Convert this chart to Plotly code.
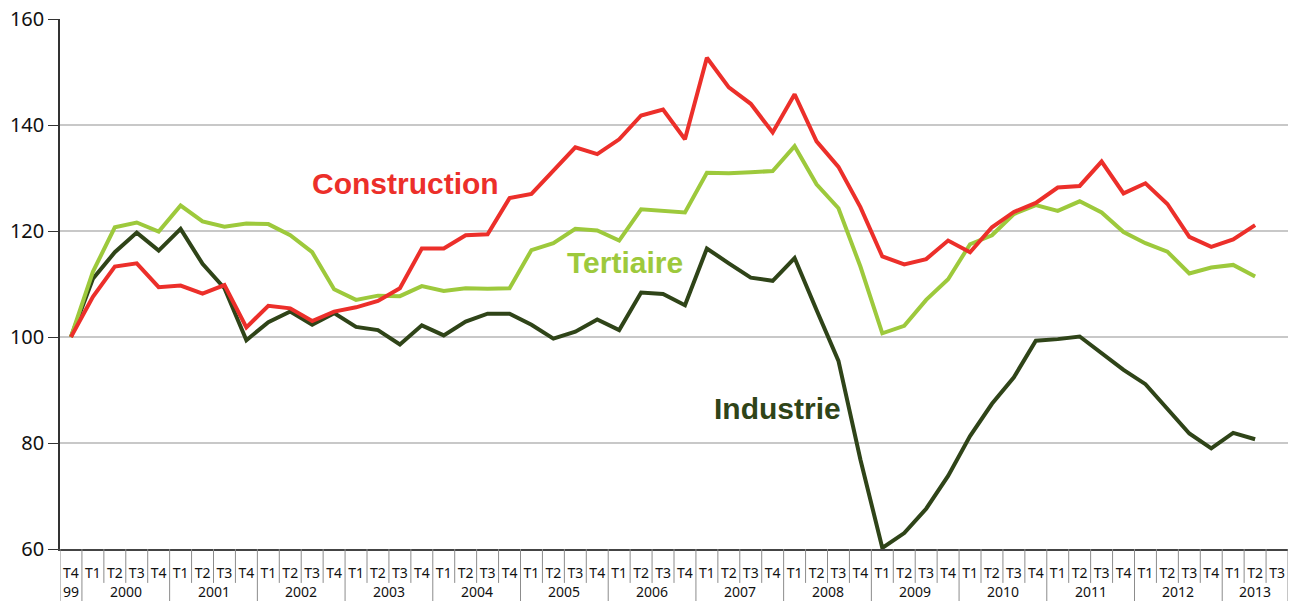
import plotly.graph_objects as go

years = ["99"] + [str(y) for y in range(2000, 2013) for _ in range(4)] + ["2013"] * 3
quarters = ["T4"] + ["T1", "T2", "T3", "T4"] * 13 + ["T1", "T2", "T3"]

industrie = [100, 111, 116, 119.7, 116.3, 120.4, 113.8, 109.2, 99.4, 102.8, 104.8, 102.3, 104.5,
             101.9, 101.3, 98.6, 102.2, 100.3, 102.9, 104.4, 104.4, 102.3, 99.7, 101, 103.3,
             101.3, 108.4, 108.1, 106, 116.7, 113.9, 111.2, 110.6, 114.9, 105.1, 95.5, 76.9,
             60.2, 63, 67.6, 73.8, 81.3, 87.4, 92.4, 99.3, 99.6, 100.1, 96.9, 93.8, 91.1, 86.5,
             81.8, 79, 81.9, 80.7, None]
construction = [100, 107.6, 113.3, 113.9, 109.4, 109.7, 108.2, 109.8, 101.8, 105.9, 105.4, 103, 104.8,
                105.6, 106.8, 109.2, 116.7, 116.7, 119.2, 119.4, 126.2, 127, 131.4, 135.8, 134.5,
                137.3, 141.8, 142.9, 137.3, 152.7, 147.1, 144, 138.6, 145.8, 136.9, 132.1, 124.5,
                115.2, 113.7, 114.7, 118.2, 116, 120.7, 123.6, 125.3, 128.2, 128.5, 133.1, 127.1,
                129, 125.1, 118.9, 117, 118.4, 121.1, None]
tertiaire = [100, 112.3, 120.7, 121.6, 119.9, 124.8, 121.8, 120.8, 121.4, 121.3, 119.2, 116, 109,
             107, 107.8, 107.7, 109.6, 108.7, 109.2, 109.1, 109.2, 116.4, 117.7, 120.4, 120.1,
             118.2, 124.1, 123.8, 123.5, 131, 130.9, 131.1, 131.3, 136, 128.8, 124.3, 113.3,
             100.7, 102.1, 107, 110.9, 117.5, 119.2, 123.2, 124.9, 123.8, 125.6, 123.5, 119.8,
             117.7, 116.1, 112, 113.1, 113.6, 111.4, None]

colors = {"Construction": "#ec2f2a", "Tertiaire": "#9dc93c", "Industrie": "#2f4418"}
values = {"Construction": construction, "Tertiaire": tertiaire, "Industrie": industrie}
y_ticks = [60, 80, 100, 120, 140, 160]

n = len(quarters)
idx = list(range(n))

fig = go.Figure()
for name in ["Industrie", "Tertiaire", "Construction"]:
    fig.add_trace(go.Scatter(
        x=idx, y=values[name], mode="lines", name=name,
        line=dict(color=colors[name], width=4), connectgaps=False,
        hoverinfo="y+name",
    ))

# series labels
labels = [
    ("Construction", 0.281, 0.689),
    ("Tertiaire", 0.460, 0.5415),
    ("Industrie", 0.584, 0.266),
]
for text, xp, yp in labels:
    fig.add_annotation(text=text, xref="paper", yref="paper", x=xp, y=yp,
                       showarrow=False, xanchor="center", yanchor="middle",
                       font=dict(family="Liberation Sans", size=30, color=colors[text], weight="bold"))

# category separators (quarter) and year dividers
for i in range(n + 1):
    boundary = i - 0.5
    is_year = (i == 0) or (i == n) or (quarters[i] == "T1")
    fig.add_shape(type="line", xref="x", yref="paper", x0=boundary, x1=boundary,
                  y0=0, y1=-0.1 if is_year else -0.064,
                  line=dict(color="#8c8c8c", width=1))

# year labels centred on their groups
groups = []
for i, yv in enumerate(years):
    if groups and groups[-1][0] == yv:
        groups[-1][2] = i
    else:
        groups.append([yv, i, i])
for yv, a, b in groups:
    fig.add_annotation(text=yv, xref="x", yref="paper", x=(a + b) / 2, y=-0.081,
                       showarrow=False, xanchor="center", yanchor="middle",
                       font=dict(family="Noto Sans", size=14, color="#111111"))

fig.update_layout(
    width=1291, height=601,
    margin=dict(l=60, r=3, t=19, b=52, autoexpand=False),
    paper_bgcolor="white", plot_bgcolor="white",
    showlegend=False,
    font=dict(family="Noto Sans", color="#111111"),
)
fig.update_yaxes(
    range=[60, 160], tickvals=y_ticks,
    showgrid=True, gridcolor="#c8c8c8", gridwidth=1.5,
    showline=True, linecolor="#333333", linewidth=1.5,
    ticks="outside", ticklen=10, tickcolor="#333333",
    tickfont=dict(size=20, family="Noto Sans", color="#111111"),
    zeroline=False, automargin=False,
)
fig.update_xaxes(
    range=[-0.5, n - 0.5], tickvals=idx, ticktext=quarters, tickangle=0,
    showline=True, linecolor="#444444", linewidth=1.5,
    ticks="", ticklabelstandoff=10,
    tickfont=dict(size=14, family="Noto Sans", color="#111111"),
    showgrid=False, zeroline=False, automargin=False,
)

fig.write_html("out.html", config={"displayModeBar": False},
               post_script="document.body.style.margin='0';")
